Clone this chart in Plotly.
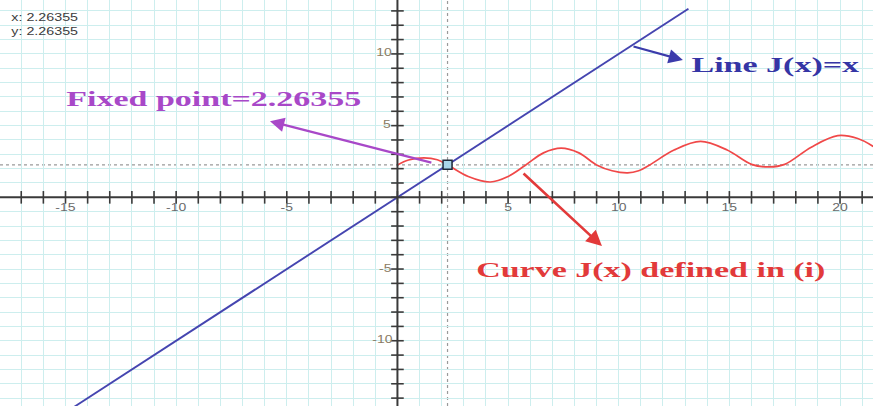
import plotly.graph_objects as go

# Axis extent
x_range = [-17.96, 21.49]
y_range = [-14.55, 13.76]

# Line J(x) = x
line_x = [-14.6, 13.15]
line_y = [-14.6, 13.15]

# Curve J(x) sampled points
curve_x = [0.0, 0.5, 1.2, 1.8, 2.26355, 3.2, 4.2, 5.0, 5.8, 6.6, 7.4, 8.2, 9.0, 9.7,
           10.4, 10.9, 11.4, 12.5, 13.7, 14.9, 16.0, 16.8, 17.5, 18.7, 19.9, 20.8, 21.5]
curve_y = [2.26, 2.6, 2.75, 2.62, 2.26355, 1.45, 1.07, 1.45, 2.26, 3.1, 3.43, 3.1, 2.26, 1.85,
           1.7, 1.85, 2.26, 3.3, 3.9, 3.3, 2.3, 2.12, 2.3, 3.5, 4.3, 4.1, 3.55]

fixed_point = 2.26355

# Axis ticks and labels
x_ticks = list(range(-17, 22))
y_ticks = list(range(-14, 14))
x_label_vals = [-15, -10, -5, 5, 10, 15, 20]
y_label_vals = [10, 5, -5, -10]

axis_color = "#3a3a3a"
label_color = "#6a6a6a"
grid_color = "#cdeeee"

fig = go.Figure()

# Guide lines through the fixed point
fig.add_shape(type="line", x0=x_range[0], x1=x_range[1], y0=fixed_point, y1=fixed_point,
              line=dict(color="#9a9a9a", width=1.2, dash="dot"), layer="below")
fig.add_shape(type="line", x0=fixed_point, x1=fixed_point, y0=y_range[0], y1=y_range[1],
              line=dict(color="#9a9a9a", width=1.2, dash="dot"), layer="below")

# Coordinate axes through the origin
fig.add_shape(type="line", x0=x_range[0], x1=x_range[1], y0=0, y1=0,
              line=dict(color=axis_color, width=2))
fig.add_shape(type="line", x0=0, x1=0, y0=y_range[0], y1=y_range[1],
              line=dict(color=axis_color, width=2))

fig.add_trace(go.Scatter(x=x_ticks, y=[0] * len(x_ticks), mode="markers",
                         marker=dict(symbol="line-ns", size=9,
                                     line=dict(color=axis_color, width=1.6)),
                         hoverinfo="skip"))
fig.add_trace(go.Scatter(x=[0] * len(y_ticks), y=y_ticks, mode="markers",
                         marker=dict(symbol="line-ew", size=9,
                                     line=dict(color=axis_color, width=1.6)),
                         hoverinfo="skip"))

fig.add_trace(go.Scatter(x=x_label_vals, y=[-0.45] * len(x_label_vals), mode="text",
                         text=[str(v) for v in x_label_vals], textposition="bottom center",
                         textfont=dict(family="Arial, Liberation Sans", size=10, color=label_color),
                         hoverinfo="skip"))
fig.add_trace(go.Scatter(x=[-0.35] * len(y_label_vals), y=y_label_vals, mode="text",
                         text=[str(v) for v in y_label_vals], textposition="middle left",
                         textfont=dict(family="Arial, Liberation Sans", size=10, color="#8a7a62"),
                         hoverinfo="skip"))

# Line and curve
fig.add_trace(go.Scatter(x=line_x, y=line_y, mode="lines",
                         line=dict(color="#4545b0", width=1.9)))
fig.add_trace(go.Scatter(x=curve_x, y=curve_y, mode="lines",
                         line=dict(color="#f04848", width=1.7, shape="spline", smoothing=1.0)))

# Fixed point marker
fig.add_trace(go.Scatter(x=[fixed_point], y=[fixed_point], mode="markers",
                         marker=dict(symbol="square", size=9, color="#a9d6ea",
                                     line=dict(color="#1e2a3a", width=1.5))))

# Arrows
fig.add_annotation(x=-5.76, y=5.31, ax=1.6, ay=2.39, axref="x", ayref="y",
                   showarrow=True, arrowhead=2, arrowsize=1.3, arrowwidth=2.2,
                   arrowcolor="#a848c8", text="")
fig.add_annotation(x=12.9, y=9.57, ax=10.6, ay=10.55, axref="x", ayref="y",
                   showarrow=True, arrowhead=2, arrowsize=1.3, arrowwidth=2.2,
                   arrowcolor="#3b3bab", text="")
fig.add_annotation(x=9.24, y=-3.40, ax=5.63, ay=1.76, axref="x", ayref="y",
                   showarrow=True, arrowhead=2, arrowsize=1.2, arrowwidth=2.6,
                   arrowcolor="#e23a3a", text="")

# Labels
serif = "Liberation Serif, Times New Roman, serif"
fig.add_annotation(x=-8.31, y=6.85, xanchor="center", yanchor="middle", showarrow=False,
                   text="<b>Fixed point=2.26355</b>",
                   font=dict(family=serif, size=20, color="#a848c8"))
fig.add_annotation(x=17.10, y=9.16, xanchor="center", yanchor="middle", showarrow=False,
                   text="<b>Line J(x)=x</b>",
                   font=dict(family=serif, size=20, color="#3535a5"))
fig.add_annotation(x=11.48, y=-5.07, xanchor="center", yanchor="middle", showarrow=False,
                   text="<b>Curve J(x) defined in (i)</b>",
                   font=dict(family=serif, size=20, color="#e23a3a"))

# Coordinate readout
for yy, txt in [(0.958, "x: 2.26355"), (0.924, "y: 2.26355")]:
    fig.add_annotation(x=0.0515, y=yy, xref="paper", yref="paper", xanchor="center",
                       yanchor="middle", showarrow=False, text=txt,
                       font=dict(family="Arial, Liberation Sans", size=11, color="#3c3c3c"))

fig.update_layout(
    width=873, height=406,
    margin=dict(l=0, r=0, t=0, b=0),
    paper_bgcolor="white", plot_bgcolor="white",
    showlegend=False,
    xaxis=dict(range=x_range, dtick=1, tick0=0, showgrid=True, gridcolor=grid_color,
               gridwidth=1, zeroline=False, showticklabels=False, ticks="",
               showline=False, fixedrange=True),
    yaxis=dict(range=y_range, dtick=1, tick0=0, showgrid=True, gridcolor=grid_color,
               gridwidth=1, zeroline=False, showticklabels=False, ticks="",
               showline=False, fixedrange=True),
)

# Horizontally widened lettering, scaled about each text's own centre
widen_js = """
var gd = document.getElementById('{plot_id}');
function widen() {
  gd.querySelectorAll('.annotation-text, .textpoint text').forEach(function (t) {
    var fs = parseFloat(t.style.fontSize || '10');
    var s = fs >= 15 ? 1.7 : (fs >= 11 ? 1.3 : 1.4);
    t.style.transformBox = 'fill-box';
    t.style.transformOrigin = 'center';
    t.style.transform = 'scaleX(' + s + ')';
  });
}
widen();
gd.on('plotly_afterplot', widen);
setTimeout(widen, 50);
"""

fig.write_html("out.html", post_script=widen_js)
